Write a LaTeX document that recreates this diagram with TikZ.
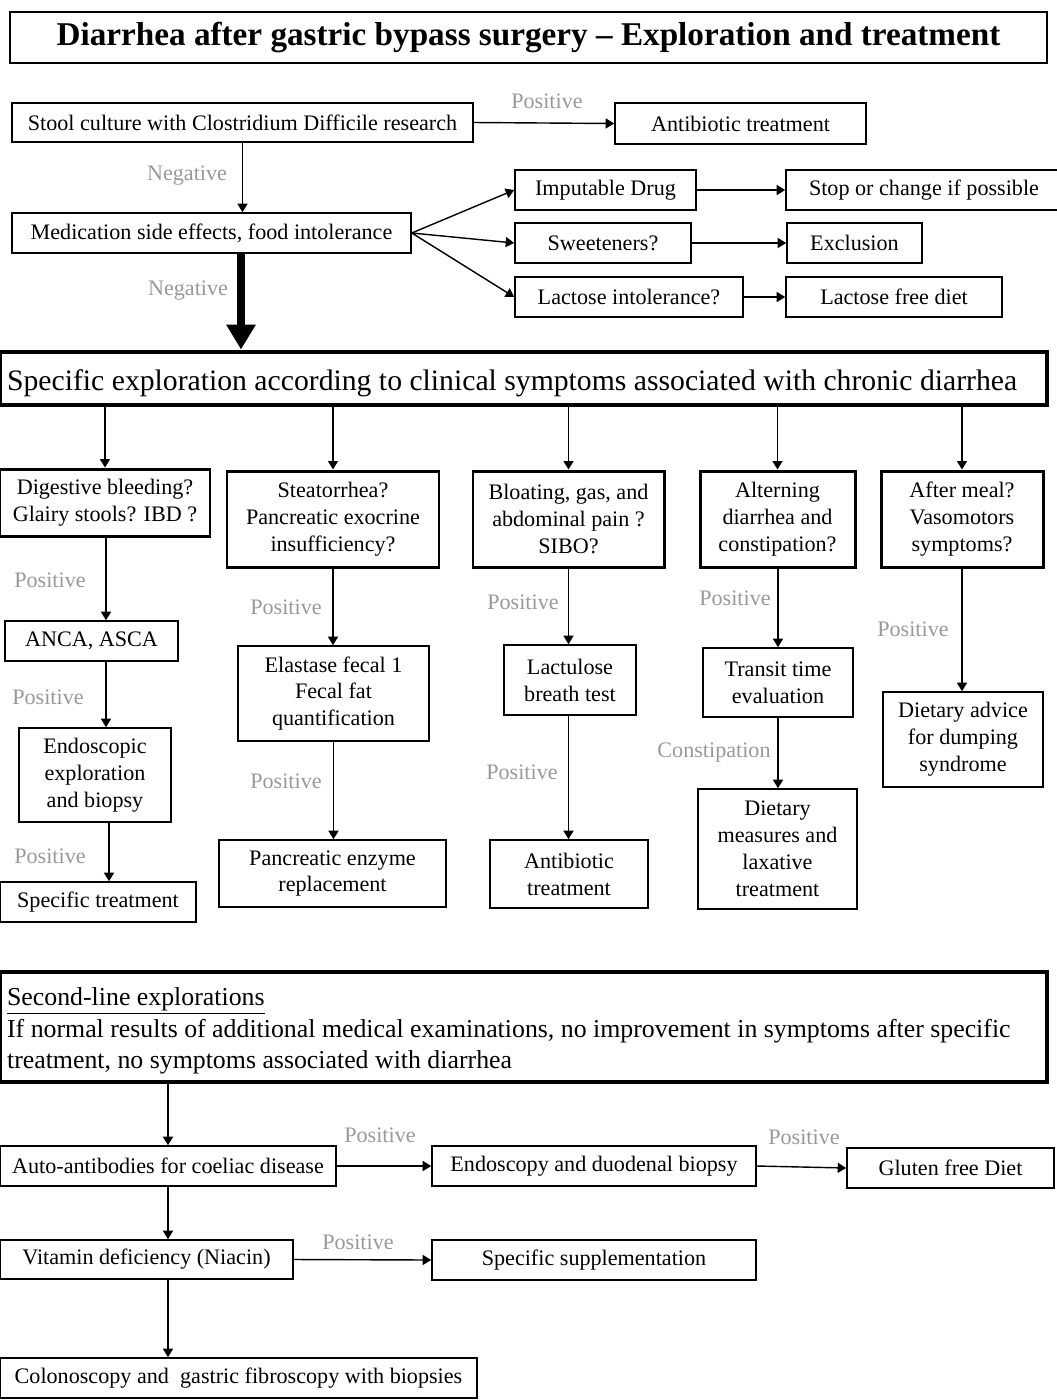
\documentclass[tikz,border=0pt]{standalone}
\usepackage{fontspec}
\setmainfont{Liberation Serif}
\usepackage{tikz}
\usetikzlibrary{arrows.meta, positioning}

\newcommand{\boxfont}{\fontsize{12.6}{15.3}\selectfont}
\newcommand{\ttlfont}{\fontsize{18.9}{22}\selectfont\bfseries}
\newcommand{\headfont}{\fontsize{16.9}{20}\selectfont}
\newcommand{\notefont}{\fontsize{14.7}{17.9}\selectfont}

\begin{document}
\begin{tikzpicture}[
    x=0.02cm, y=-0.02cm,
    box/.style={rectangle, draw=black, line width=0.9pt, inner sep=0pt, align=center, font=\boxfont},
    qbox/.style={box, line width=1.7pt},
    bigbox/.style={box, line width=2.8pt, align=flush left, inner xsep=0.14cm, text width=20.66cm},
    sz/.style 2 args={minimum width=#1*0.02cm, minimum height=#2*0.02cm},
    lbl/.style={text=gray!80, font=\boxfont, inner sep=0pt},
    arr/.style={-{Triangle[length=0.17cm, width=0.2cm]}, line width=0.8pt},
    bigarr/.style={-{Triangle[length=0.5cm, width=0.56cm]}, line width=4pt},
]

\useasboundingbox (0,0) rectangle (1057,1400);

% ---- Title ----
\node[box, sz={1037}{51}, font=\ttlfont] (title) at (528.5,37.5)
    {Diarrhea after gastric bypass surgery -- Exploration and treatment};

% ---- First steps ----
\node[box, sz={461}{39}] (stool) at (242.5,122.5) {Stool culture with Clostridium Difficile research};
\node[box, sz={251}{41}] (antib1) at (740.5,123.5) {Antibiotic treatment};
\node[box, sz={399}{40}] (med) at (211.5,233) {Medication side effects, food intolerance};

\node[box, sz={181}{40}] (drug) at (605.5,190) {Imputable Drug};
\node[box, sz={176}{40}] (sweet) at (603,243) {Sweeteners?};
\node[box, sz={228}{40}] (lact) at (629,297) {Lactose intolerance?};
\node[box, sz={276}{40}] (stop) at (924,190) {Stop or change if possible};
\node[box, sz={135}{40}] (excl) at (854.5,243) {Exclusion};
\node[box, sz={216}{40}] (lfree) at (894,297) {Lactose free diet};

\node[lbl] (pos0) at (547,101) {Positive};
\node[lbl] (neg1) at (187,176) {Negative};
\node[lbl] (neg2) at (188,291) {Negative};

% ---- Specific exploration ----
\node[bigbox, sz={1047}{53}, font=\headfont] (spec) at (523.5,378.5)
    {\rule{0pt}{0.61cm}Specific exploration according to clinical symptoms associated with chronic diarrhea};

\node[qbox, sz={210}{67}] (c1) at (105,502.5) {Digestive bleeding?\\Glairy stools? IBD ?};
\node[qbox, sz={212}{96}] (c2) at (333,519) {Steatorrhea?\\Pancreatic exocrine\\insufficiency?};
\node[qbox, sz={191}{96}] (c3) at (568.5,519) {Bloating, gas, and\\abdominal pain ?\\SIBO?};
\node[qbox, sz={155}{96}] (c4) at (777.5,519) {Alterning\\diarrhea and\\constipation?};
\node[qbox, sz={162}{96}] (c5) at (962,519) {After meal?\\Vasomotors\\symptoms?};

% column 1
\node[box, sz={173}{40}] (anca) at (91.5,641) {ANCA, ASCA};
\node[box, sz={152}{94}] (endo) at (95,775) {Endoscopic\\exploration\\and biopsy};
\node[box, sz={196}{40}] (spt) at (98,902) {Specific treatment};
% column 2
\node[box, sz={191}{95}] (ela) at (333.5,693.5) {Elastase fecal 1\\Fecal fat\\quantification};
\node[box, sz={227}{67}] (pan) at (332.5,873.5) {Pancreatic enzyme\\replacement};
% column 3
\node[box, sz={132}{70}] (lac) at (570,680) {Lactulose\\breath test};
\node[box, sz={158}{68}] (ab2) at (569,874) {Antibiotic\\treatment};
% column 4
\node[box, sz={150}{69}] (tra) at (778,682.5) {Transit time\\evaluation};
\node[box, sz={159}{120}] (diet) at (777.5,849) {Dietary\\measures and\\laxative\\treatment};
% column 5
\node[box, sz={160}{95}] (dump) at (963,739.5) {Dietary advice\\for dumping\\syndrome};

\node[lbl] (pa1) at (50,580) {Positive};
\node[lbl] (pa2) at (48,697) {Positive};
\node[lbl] (pa3) at (50,856) {Positive};
\node[lbl] (pb1) at (286,607) {Positive};
\node[lbl] (pb2) at (286,781) {Positive};
\node[lbl] (pc1) at (523,602) {Positive};
\node[lbl] (pc2) at (522,772) {Positive};
\node[lbl] (pd1) at (735,598) {Positive};
\node[lbl] (pd2) at (714,753) {Constipation};
\node[lbl] (pe1) at (913,629) {Positive};

% ---- Second-line explorations ----
\node[bigbox, sz={1047}{110}, font=\notefont] (sl) at (523.5,1027)
    {\rule{0pt}{0.52cm}\underline{Second-line explorations}\\
     If normal results of additional medical examinations, no improvement in symptoms after specific\\
     treatment, no symptoms associated with diarrhea};

\node[box, sz={336}{40}] (auto) at (168,1166) {Auto-antibodies for coeliac disease};
\node[box, sz={324}{40}] (endd) at (594,1166) {Endoscopy and duodenal biopsy};
\node[box, sz={207}{40}] (glut) at (950.5,1168) {Gluten free Diet};
\node[box, sz={293}{39}] (vit) at (146.5,1259.5) {Vitamin deficiency (Niacin)};
\node[box, sz={324}{40}] (supp) at (594,1260) {Specific supplementation};
\node[box, sz={477}{40}] (colo) at (238.5,1378) {Colonoscopy and~ gastric fibroscopy with biopsies};

\node[lbl] (pf1) at (380,1135) {Positive};
\node[lbl] (pf2) at (804,1137) {Positive};
\node[lbl] (pf3) at (358,1242) {Positive};

% ---- Connectors ----
\draw[arr] (stool.east) -- (antib1.west);
\draw[arr] (stool.south) -- (med.north -| stool.south);
\draw[bigarr] (med.south -| 241,0) -- (spec.north -| 241,0);
\foreach \t in {drug, sweet, lact} {
    \draw[arr] (med.east) -- (\t.west);
}
\draw[arr] (drug.east) -- (stop.west);
\draw[arr] (sweet.east) -- (excl.west);
\draw[arr] (lact.east) -- (lfree.west);

\foreach \c in {c1, c2, c3, c4, c5} {
    \draw[arr] (spec.south -| \c.north) -- (\c.north);
}
\draw[arr] (c1.south -| 106,0) -- (anca.north -| 106,0);
\draw[arr] (anca.south -| 106,0) -- (endo.north -| 106,0);
\draw[arr] (endo.south -| 109,0) -- (spt.north -| 109,0);
\draw[arr] (c2.south) -- (ela.north -| c2.south);
\draw[arr] (ela.south) -- (pan.north -| ela.south);
\draw[arr] (c3.south) -- (lac.north -| c3.south);
\draw[arr] (lac.south -| c3.south) -- (ab2.north -| c3.south);
\draw[arr] (c4.south -| tra.north) -- (tra.north);
\draw[arr] (tra.south) -- (diet.north -| tra.south);
\draw[arr] (c5.south) -- (dump.north -| c5.south);

\draw[arr] (sl.south -| auto.north) -- (auto.north);
\draw[arr] (auto.east) -- (endd.west);
\draw[arr] (endd.east) -- (glut.west);
\draw[arr] (auto.south) -- (vit.north -| auto.south);
\draw[arr] (vit.south -| auto.south) -- (colo.north -| auto.south);
\draw[arr] (vit.east) -- (supp.west);

\end{tikzpicture}
\end{document}
